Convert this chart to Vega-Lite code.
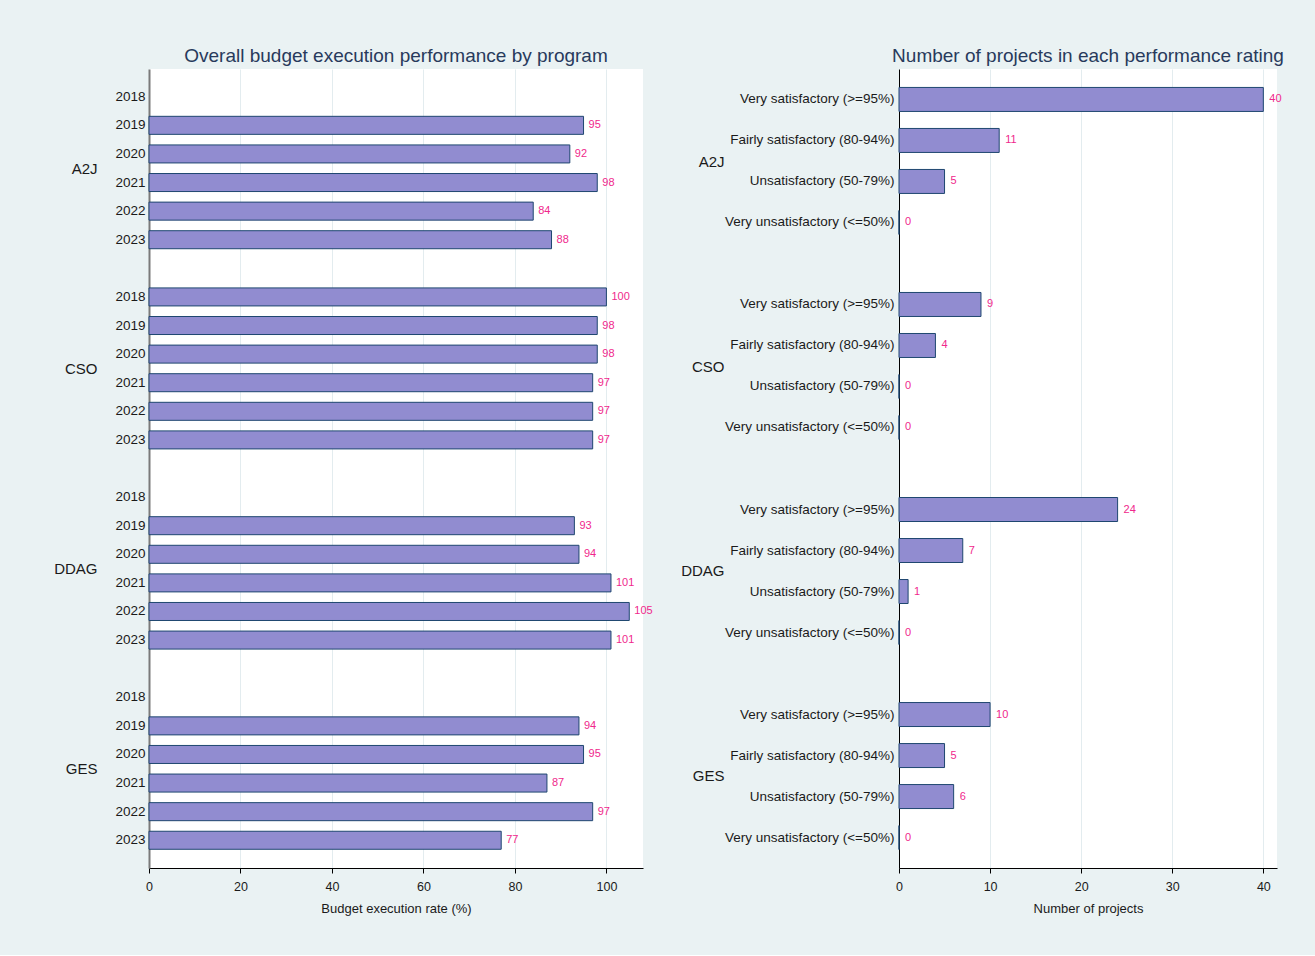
{
  "$schema": "https://vega.github.io/schema/vega-lite/v6.json",
  "background": "#eaf2f3",
  "padding": {"left": 53, "top": 47, "right": 31, "bottom": 39},
  "config": {
    "font": "Liberation Sans",
    "view": {"fill": "white", "stroke": null},
    "axis": {"labelFont": "Liberation Sans", "titleFont": "Liberation Sans", "labelColor": "#1a1a1a", "titleColor": "#1a1a1a", "titleFontWeight": "normal"},
    "axisX": {"domainColor": "#000000", "domainWidth": 1, "tickColor": "#000000", "tickSize": 5, "labelFontSize": 12.5, "labelPadding": 7, "labelFlush": false, "titleFontSize": 13, "titlePadding": 10, "grid": true, "gridColor": "#e3ecef", "gridWidth": 1},
    "title": {"font": "Liberation Sans", "fontSize": 19, "fontWeight": "normal", "color": "#283a5c", "anchor": "middle", "frame": "group", "offset": 3}
  },
  "datasets": {
    "budget": [
      {"program": "A2J", "year": "2019", "slot": "A2J|2019", "rate": 95},
      {"program": "A2J", "year": "2020", "slot": "A2J|2020", "rate": 92},
      {"program": "A2J", "year": "2021", "slot": "A2J|2021", "rate": 98},
      {"program": "A2J", "year": "2022", "slot": "A2J|2022", "rate": 84},
      {"program": "A2J", "year": "2023", "slot": "A2J|2023", "rate": 88},
      {"program": "CSO", "year": "2018", "slot": "CSO|2018", "rate": 100},
      {"program": "CSO", "year": "2019", "slot": "CSO|2019", "rate": 98},
      {"program": "CSO", "year": "2020", "slot": "CSO|2020", "rate": 98},
      {"program": "CSO", "year": "2021", "slot": "CSO|2021", "rate": 97},
      {"program": "CSO", "year": "2022", "slot": "CSO|2022", "rate": 97},
      {"program": "CSO", "year": "2023", "slot": "CSO|2023", "rate": 97},
      {"program": "DDAG", "year": "2019", "slot": "DDAG|2019", "rate": 93},
      {"program": "DDAG", "year": "2020", "slot": "DDAG|2020", "rate": 94},
      {"program": "DDAG", "year": "2021", "slot": "DDAG|2021", "rate": 101},
      {"program": "DDAG", "year": "2022", "slot": "DDAG|2022", "rate": 105},
      {"program": "DDAG", "year": "2023", "slot": "DDAG|2023", "rate": 101},
      {"program": "GES", "year": "2019", "slot": "GES|2019", "rate": 94},
      {"program": "GES", "year": "2020", "slot": "GES|2020", "rate": 95},
      {"program": "GES", "year": "2021", "slot": "GES|2021", "rate": 87},
      {"program": "GES", "year": "2022", "slot": "GES|2022", "rate": 97},
      {"program": "GES", "year": "2023", "slot": "GES|2023", "rate": 77}
    ],
    "ratings": [
      {"program": "A2J", "rating": "Very satisfactory (>=95%)", "slot": "A2J|Very satisfactory (>=95%)", "projects": 40},
      {"program": "A2J", "rating": "Fairly satisfactory (80-94%)", "slot": "A2J|Fairly satisfactory (80-94%)", "projects": 11},
      {"program": "A2J", "rating": "Unsatisfactory (50-79%)", "slot": "A2J|Unsatisfactory (50-79%)", "projects": 5},
      {"program": "A2J", "rating": "Very unsatisfactory (<=50%)", "slot": "A2J|Very unsatisfactory (<=50%)", "projects": 0},
      {"program": "CSO", "rating": "Very satisfactory (>=95%)", "slot": "CSO|Very satisfactory (>=95%)", "projects": 9},
      {"program": "CSO", "rating": "Fairly satisfactory (80-94%)", "slot": "CSO|Fairly satisfactory (80-94%)", "projects": 4},
      {"program": "CSO", "rating": "Unsatisfactory (50-79%)", "slot": "CSO|Unsatisfactory (50-79%)", "projects": 0},
      {"program": "CSO", "rating": "Very unsatisfactory (<=50%)", "slot": "CSO|Very unsatisfactory (<=50%)", "projects": 0},
      {"program": "DDAG", "rating": "Very satisfactory (>=95%)", "slot": "DDAG|Very satisfactory (>=95%)", "projects": 24},
      {"program": "DDAG", "rating": "Fairly satisfactory (80-94%)", "slot": "DDAG|Fairly satisfactory (80-94%)", "projects": 7},
      {"program": "DDAG", "rating": "Unsatisfactory (50-79%)", "slot": "DDAG|Unsatisfactory (50-79%)", "projects": 1},
      {"program": "DDAG", "rating": "Very unsatisfactory (<=50%)", "slot": "DDAG|Very unsatisfactory (<=50%)", "projects": 0},
      {"program": "GES", "rating": "Very satisfactory (>=95%)", "slot": "GES|Very satisfactory (>=95%)", "projects": 10},
      {"program": "GES", "rating": "Fairly satisfactory (80-94%)", "slot": "GES|Fairly satisfactory (80-94%)", "projects": 5},
      {"program": "GES", "rating": "Unsatisfactory (50-79%)", "slot": "GES|Unsatisfactory (50-79%)", "projects": 6},
      {"program": "GES", "rating": "Very unsatisfactory (<=50%)", "slot": "GES|Very unsatisfactory (<=50%)", "projects": 0}
    ]
  },
  "spacing": 27,
  "hconcat": [
    {
      "width": 494,
      "height": 799,
      "title": {"text": "Overall budget execution performance by program"},
      "data": {"name": "budget"},
      "layer": [
        {
          "mark": {"type": "bar", "fill": "#918cd0", "stroke": "#1f4770", "strokeWidth": 1},
          "encoding": {
            "y": {"field": "slot", "type": "nominal", "title": null,
              "scale": {"type": "band", "domain": ["A2J|2018","A2J|2019","A2J|2020","A2J|2021","A2J|2022","A2J|2023"," 1","CSO|2018","CSO|2019","CSO|2020","CSO|2021","CSO|2022","CSO|2023"," 2","DDAG|2018","DDAG|2019","DDAG|2020","DDAG|2021","DDAG|2022","DDAG|2023"," 3","GES|2018","GES|2019","GES|2020","GES|2021","GES|2022","GES|2023"], "paddingInner": 0.37, "paddingOuter": 0.655},
              "axis": {"orient": "left", "ticks": false, "domainColor": "#7a7a7a", "domainWidth": 2, "labelPadding": 4, "labelFontSize": 13.5, "grid": false, "labelExpr": "indexof(datum.value, '|') >= 0 ? split(datum.value, '|')[1] : ''"}},
            "x": {"field": "rate", "type": "quantitative", "scale": {"domain": [0, 108], "nice": false},
              "axis": {"values": [0, 20, 40, 60, 80, 100], "title": "Budget execution rate (%)"}}
          }
        },
        {
          "mark": {"type": "text", "align": "left", "baseline": "middle", "dx": 5, "color": "#f0288c", "fontSize": 11},
          "encoding": {
            "y": {"field": "slot", "type": "nominal", "axis": null,
              "scale": {"type": "band", "domain": ["A2J|2018","A2J|2019","A2J|2020","A2J|2021","A2J|2022","A2J|2023"," 1","CSO|2018","CSO|2019","CSO|2020","CSO|2021","CSO|2022","CSO|2023"," 2","DDAG|2018","DDAG|2019","DDAG|2020","DDAG|2021","DDAG|2022","DDAG|2023"," 3","GES|2018","GES|2019","GES|2020","GES|2021","GES|2022","GES|2023"], "paddingInner": 0.37, "paddingOuter": 0.655}},
            "x": {"field": "rate", "type": "quantitative"},
            "text": {"field": "rate", "type": "quantitative"}
          }
        },
        {
          "mark": {"type": "point", "opacity": 0},
          "encoding": {
            "y": {"field": "program", "type": "nominal", "title": null,
              "scale": {"type": "point", "domain": ["A2J", "CSO", "DDAG", "GES"], "padding": 0.4955},
              "axis": {"orient": "left", "offset": 52, "ticks": false, "domain": false, "labelPadding": 0, "labelFontSize": 15, "grid": false}}
          }
        }
      ],
      "resolve": {"scale": {"y": "independent"}, "axis": {"y": "independent"}}
    },
    {
      "width": 378,
      "height": 799,
      "title": {"text": "Number of projects in each performance rating"},
      "data": {"name": "ratings"},
      "layer": [
        {
          "mark": {"type": "bar", "fill": "#918cd0", "stroke": "#1f4770", "strokeWidth": 1},
          "encoding": {
            "y": {"field": "slot", "type": "nominal", "title": null,
              "scale": {"type": "band", "domain": ["A2J|Very satisfactory (>=95%)","A2J|Fairly satisfactory (80-94%)","A2J|Unsatisfactory (50-79%)","A2J|Very unsatisfactory (<=50%)"," 1","CSO|Very satisfactory (>=95%)","CSO|Fairly satisfactory (80-94%)","CSO|Unsatisfactory (50-79%)","CSO|Very unsatisfactory (<=50%)"," 2","DDAG|Very satisfactory (>=95%)","DDAG|Fairly satisfactory (80-94%)","DDAG|Unsatisfactory (50-79%)","DDAG|Very unsatisfactory (<=50%)"," 3","GES|Very satisfactory (>=95%)","GES|Fairly satisfactory (80-94%)","GES|Unsatisfactory (50-79%)","GES|Very unsatisfactory (<=50%)"], "paddingInner": 0.415, "paddingOuter": 0.45},
              "axis": {"orient": "left", "ticks": false, "domainColor": "#000000", "domainWidth": 1, "labelPadding": 5, "labelFontSize": 13.5, "labelLimit": 300, "grid": false, "labelExpr": "indexof(datum.value, '|') >= 0 ? split(datum.value, '|')[1] : ''"}},
            "x": {"field": "projects", "type": "quantitative", "scale": {"domain": [0, 41.5], "nice": false},
              "axis": {"values": [0, 10, 20, 30, 40], "title": "Number of projects"}}
          }
        },
        {
          "mark": {"type": "text", "align": "left", "baseline": "middle", "dx": 6, "color": "#f0288c", "fontSize": 11},
          "encoding": {
            "y": {"field": "slot", "type": "nominal", "axis": null,
              "scale": {"type": "band", "domain": ["A2J|Very satisfactory (>=95%)","A2J|Fairly satisfactory (80-94%)","A2J|Unsatisfactory (50-79%)","A2J|Very unsatisfactory (<=50%)"," 1","CSO|Very satisfactory (>=95%)","CSO|Fairly satisfactory (80-94%)","CSO|Unsatisfactory (50-79%)","CSO|Very unsatisfactory (<=50%)"," 2","DDAG|Very satisfactory (>=95%)","DDAG|Fairly satisfactory (80-94%)","DDAG|Unsatisfactory (50-79%)","DDAG|Very unsatisfactory (<=50%)"," 3","GES|Very satisfactory (>=95%)","GES|Fairly satisfactory (80-94%)","GES|Unsatisfactory (50-79%)","GES|Very unsatisfactory (<=50%)"], "paddingInner": 0.415, "paddingOuter": 0.45}},
            "x": {"field": "projects", "type": "quantitative"},
            "text": {"field": "projects", "type": "quantitative"}
          }
        },
        {
          "mark": {"type": "point", "opacity": 0},
          "encoding": {
            "y": {"field": "program", "type": "nominal", "title": null,
              "scale": {"type": "point", "domain": ["A2J", "CSO", "DDAG", "GES"], "padding": 0.449},
              "axis": {"orient": "left", "offset": 175, "ticks": false, "domain": false, "labelPadding": 0, "labelFontSize": 15, "grid": false}}
          }
        }
      ],
      "resolve": {"scale": {"y": "independent"}, "axis": {"y": "independent"}}
    }
  ]
}
